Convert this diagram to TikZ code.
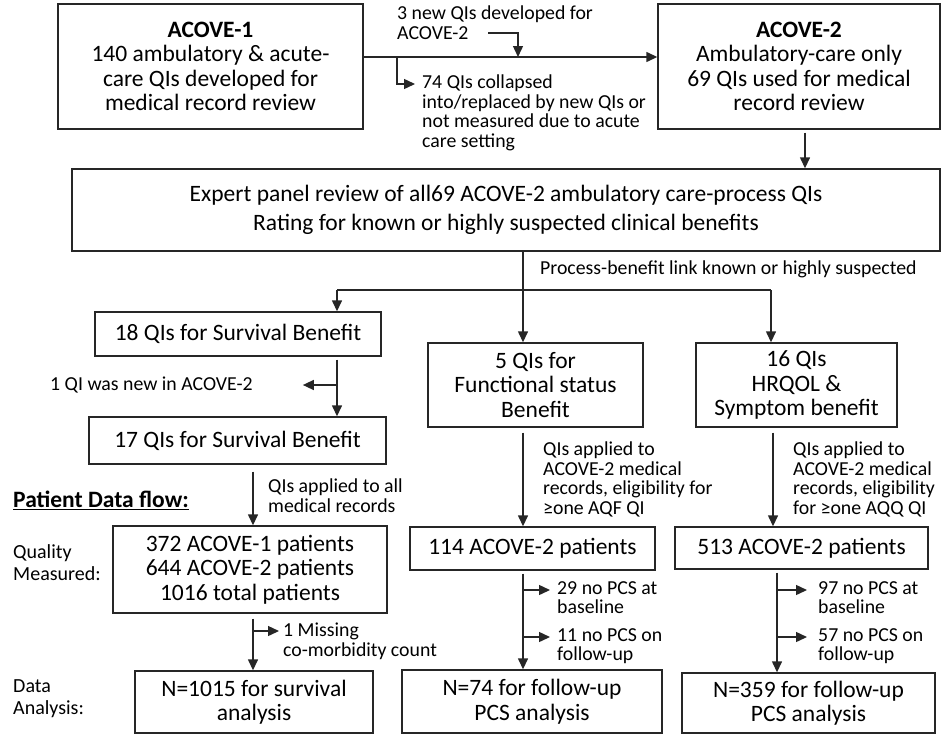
\documentclass[tikz,border=0pt]{standalone}
\usepackage{fontspec}
\setmainfont{Carlito}
\usetikzlibrary{arrows.meta,calc}
\begin{document}
\begin{tikzpicture}[x=1pt,y=-1pt,
  box/.style={draw=black!85, line width=1.4pt, align=center, inner sep=0pt,
    font=\fontsize{23.5}{24.5}\selectfont},
  note/.style={align=left, inner sep=0pt, anchor=north west,
    font=\fontsize{19.8}{19.5}\selectfont},
  side/.style={align=left, inner sep=0pt, anchor=north west,
    font=\fontsize{20}{22}\selectfont},
  ln/.style={draw=black!85, line width=1.4pt},
  arr/.style={ln, -{Triangle[length=11pt,width=10pt]}, shorten <=3pt}]
\useasboundingbox (0,0) rectangle (944,736);

% top row
\node[box, minimum width=305pt, minimum height=125pt] (a1) at (210.5,66.5)
  {\textbf{ACOVE-1}\\140 ambulatory \& acute-\\care QIs developed for\\medical record review};
\node[box, minimum width=282pt, minimum height=125pt] (a2) at (799,66.5)
  {\textbf{ACOVE-2}\\Ambulatory-care only\\69 QIs used for medical\\record review};
\node[note] (n3) at (397,6) {3 new QIs developed for\\ACOVE-2};
\node[note] (n74) at (422,75) {74 QIs collapsed\\into/replaced by new QIs or\\not measured due to acute\\care setting};

\node[box, minimum width=868pt, minimum height=82pt,
  font=\fontsize{23.5}{29}\selectfont] (exp) at (506,210)
  {Expert panel review of all69 ACOVE-2 ambulatory care-process QIs\\Rating for known or highly suspected clinical benefits};
\node[note] (npb) at (540,261) {Process-benefit link known or highly suspected};

% benefit boxes
\node[box, minimum width=286pt, minimum height=44pt] (s18) at (238,334) {18 QIs for Survival Benefit};
\node[box, minimum width=297pt, minimum height=47pt] (s17) at (237.5,440.5) {17 QIs for Survival Benefit};
\node[note, anchor=west] (nqi) at (50,385) {1 QI was new in ACOVE-2};
\node[box, minimum width=215pt, minimum height=84pt] (f5) at (535.5,385) {5 QIs for\\Functional status\\Benefit};
\node[box, minimum width=201pt, minimum height=84pt] (h16) at (796.5,385) {16 QIs\\HRQOL \&\\Symptom benefit};

% patient data
\node[anchor=west, inner sep=0pt, font=\fontsize{23.5}{24.5}\selectfont\bfseries] (pdf) at (13,500) {\underline{Patient Data flow:}};
\node[side] (lq) at (13,544) {Quality\\Measured:};
\node[side] (ld) at (13,679) {Data\\Analysis:};

\node[note] (nall) at (268,479) {QIs applied to all\\medical records};
\node[note] (nf) at (543,442) {QIs applied to\\ACOVE-2 medical\\records, eligibility for\\≥one AQF QI};
\node[note] (nh) at (793,442) {QIs applied to\\ACOVE-2 medical\\records, eligibility\\for ≥one AQQ QI};

\node[box, minimum width=274pt, minimum height=87pt] (qm) at (250,569.5) {372 ACOVE-1 patients\\644 ACOVE-2 patients\\1016 total patients};
\node[box, minimum width=245pt, minimum height=43pt] (p114) at (532.5,548.5) {114 ACOVE-2 patients};
\node[box, minimum width=253pt, minimum height=42pt] (p513) at (801.5,548) {513 ACOVE-2 patients};

\node[note] (nmiss) at (283,623) {1 Missing\\co-morbidity count};
\node[note] (n29) at (557,581) {29 no PCS at\\baseline};
\node[note] (n11) at (557,628) {11 no PCS on\\follow-up};
\node[note] (n97) at (818,581) {97 no PCS at\\baseline};
\node[note] (n57) at (818,628) {57 no PCS on\\follow-up};

\node[box, minimum width=238pt, minimum height=62pt] (n1015) at (254,702) {N=1015 for survival\\analysis};
\node[box, minimum width=260pt, minimum height=63pt] (n74b) at (532,701.5) {N=74 for follow-up\\PCS analysis};
\node[box, minimum width=253pt, minimum height=60pt] (n359) at (808.5,703) {N=359 for follow-up\\PCS analysis};

% connectors top
\draw[arr, shorten <=0pt] ([yshift=9.5pt]a1.east) -- ([yshift=9.5pt]a2.west);
\coordinate (m3) at (518,57);
\draw[arr, shorten <=0pt] ([xshift=91pt,yshift=-27pt]n3.north west) -| (m3);
\coordinate (b74) at (397,57);
\draw[arr, shorten <=0pt] (b74) |- ([xshift=-7pt,yshift=-9pt]n74.north west);
\draw[arr] ([xshift=6pt]a2.south) -- ([xshift=6pt]a2.south |- exp.north);

% branch
\coordinate (j) at (523,290);
\coordinate (jl) at (337,290);
\coordinate (jr) at (771,290);
\draw[ln] (exp.south -| j) -- (j);
\draw[ln] (jl) -- (jr);
\draw[arr, shorten <=0pt] (jl) -- (jl |- s18.north);
\draw[arr, shorten <=0pt] (j) -- (j |- f5.north);
\draw[arr, shorten <=0pt] (jr) -- (jr |- h16.north);

% survival column
\draw[arr] (s18.south -| jl) -- (s17.north -| jl);
\coordinate (b1) at (337,385);
\draw[arr, shorten <=0pt] (b1) -- ([xshift=50pt]nqi.east);
\coordinate (c1) at (253,0);
\draw[arr, shorten <=7pt] (s17.south -| c1) -- (qm.north -| c1);
\draw[arr, shorten <=5pt] (qm.south -| c1) -- (n1015.north -| c1);
\coordinate (bm) at (253,631);
\draw[arr, shorten <=0pt] (bm) -- ([xshift=-4pt,yshift=-8pt]nmiss.north west);

% functional column
\coordinate (c2) at (523,0);
\draw[arr, shorten <=5pt] (f5.south -| c2) -- (p114.north -| c2);
\draw[arr] (p114.south -| c2) -- (n74b.north -| c2);
\coordinate (b29) at (523,590);
\coordinate (b11) at (523,637);
\draw[arr, shorten <=0pt] (b29) -- ([xshift=-7pt,yshift=-9pt]n29.north west);
\draw[arr, shorten <=0pt] (b11) -- ([xshift=-7pt,yshift=-9pt]n11.north west);

% HRQOL column
\coordinate (c3) at (773,0);
\coordinate (c4) at (777,0);
\draw[arr, shorten <=5pt] (h16.south -| c3) -- (p513.north -| c3);
\draw[arr] (p513.south -| c4) -- (n359.north -| c4);
\coordinate (b97) at (777,590);
\coordinate (b57) at (777,637);
\draw[arr, shorten <=0pt] (b97) -- ([xshift=-11pt,yshift=-9pt]n97.north west);
\draw[arr, shorten <=0pt] (b57) -- ([xshift=-11pt,yshift=-9pt]n57.north west);
\end{tikzpicture}
\end{document}
